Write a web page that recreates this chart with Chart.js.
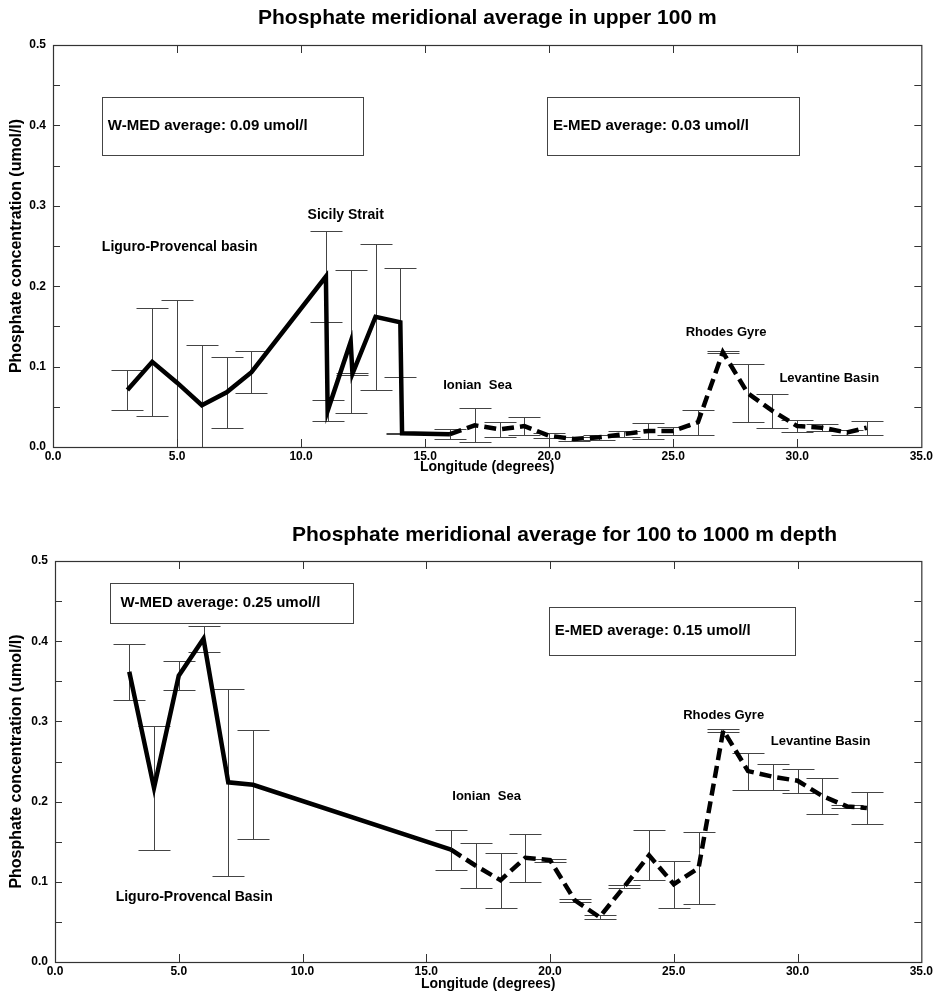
<!DOCTYPE html>
<html>
<head>
<meta charset="utf-8">
<title>Phosphate meridional average</title>
<script src="https://cdn.jsdelivr.net/npm/chart.js@4.4.1/dist/chart.umd.min.js"></script>
<style>
  html, body { margin: 0; padding: 0; background: #fff; }
  #wrap { position: relative; width: 935px; height: 994px; background: #fff; }
  canvas { position: absolute; left: 0; }
  #upperChart { top: 0; }
  #deepChart { top: 495px; }
</style>
</head>
<body>
<div id="wrap">
  <canvas id="upperChart" width="935" height="495"></canvas>
  <canvas id="deepChart" width="935" height="499"></canvas>
</div>
<script>
const FONT = "'Liberation Sans', Arial, Helvetica, sans-serif";

// axis ticks
const lonTicks = [0, 5, 10, 15, 20, 25, 30, 35];
const concTicks = [0, 0.1, 0.2, 0.3, 0.4, 0.5];

// upper 100 m - western basin (solid)
const upperWestLon = [3, 4, 5, 6, 7, 8, 11, 11.07, 12, 12.07, 13, 14, 14.07, 16];
const upperWestVal = [0.071, 0.106, 0.080, 0.052, 0.068, 0.093, 0.212, 0.045, 0.131, 0.091, 0.162, 0.155, 0.017, 0.016];
const upperWestErr = [0.025, 0.067, 0.103, 0.075, 0.044, 0.026, 0.057, 0.013, 0.089, 0.001, 0.091, 0.068, 0.001, null];

// upper 100 m - eastern basin (dashed)
const upperEastLon = [16, 17, 18, 19, 20, 21, 22, 23, 24, 25, 26, 27, 28, 29, 30, 31, 32, 32.8];
const upperEastVal = [0.016, 0.027, 0.022, 0.026, 0.014, 0.010, 0.012, 0.016, 0.020, 0.020, 0.031, 0.118, 0.067, 0.045, 0.026, 0.024, 0.018, 0.024];
const upperEastErr = [0.006, 0.021, 0.009, 0.011, 0.003, 0.002, 0.003, 0.004, 0.0095, 0.005, 0.0155, 0.001, 0.036, 0.021, 0.007, 0.004, 0.003, 0.0085];

// 100 to 1000 m - western basin (solid)
const deepWestLon = [3, 4, 5, 6, 7, 8, 16];
const deepWestVal = [0.362, 0.217, 0.357, 0.403, 0.224, 0.221, 0.140];
const deepWestErr = [0.035, 0.077, 0.018, 0.016, 0.117, 0.068, null];

// 100 to 1000 m - eastern basin (dashed)
const deepEastLon = [16, 17, 18, 19, 20, 21, 22, 23, 24, 25, 26, 27, 28, 29, 30, 31, 32, 32.8];
const deepEastVal = [0.140, 0.120, 0.102, 0.130, 0.127, 0.077, 0.056, 0.094, 0.133, 0.097, 0.117, 0.289, 0.238, 0.231, 0.226, 0.207, 0.194, 0.192];
const deepEastErr = [0.025, 0.028, 0.0345, 0.030, 0.002, 0.002, 0.002, 0.002, 0.031, 0.0295, 0.045, 0.002, 0.023, 0.016, 0.015, 0.022, 0.002, 0.0195];

function toPoints(xs, ys) {
  return xs.map((x, i) => ({ x: x, y: ys[i] }));
}

const CAP = 16;

// frame, inward ticks, error bars, boxes and labels
const paperPlugin = {
  id: "paper",
  beforeDatasetsDraw(chart) {
    const { ctx, chartArea: a, scales: { x, y } } = chart;
    ctx.save();
    ctx.beginPath();
    ctx.rect(a.left, a.top, a.right - a.left, a.bottom - a.top);
    ctx.clip();
    ctx.strokeStyle = "#444";
    ctx.lineWidth = 1;
    chart.data.datasets.forEach(ds => {
      if (!ds.errors) return;
      ds.data.forEach((p, i) => {
        const e = ds.errors[i];
        if (e == null) return;
        const px = Math.round(x.getPixelForValue(p.x)) + 0.5;
        const top = Math.round(y.getPixelForValue(p.y + e)) + 0.5;
        const bot = Math.round(y.getPixelForValue(p.y - e)) + 0.5;
        ctx.beginPath();
        ctx.moveTo(px, top);
        ctx.lineTo(px, bot);
        ctx.moveTo(px - CAP, top);
        ctx.lineTo(px + CAP, top);
        ctx.moveTo(px - CAP, bot);
        ctx.lineTo(px + CAP, bot);
        ctx.stroke();
      });
    });
    ctx.restore();
  },
  afterDraw(chart, args, opts) {
    const { ctx, chartArea: a, scales: { x, y } } = chart;
    ctx.save();

    // frame
    ctx.strokeStyle = "#333";
    ctx.lineWidth = 1.2;
    ctx.strokeRect(a.left + 0.5, a.top + 0.5, a.right - a.left, a.bottom - a.top);

    // inward ticks
    ctx.lineWidth = 1;
    ctx.beginPath();
    for (let v = 0.05; v < 0.5; v += 0.05) {
      const py = Math.round(y.getPixelForValue(v)) + 0.5;
      ctx.moveTo(a.left, py); ctx.lineTo(a.left + 7, py);
      ctx.moveTo(a.right, py); ctx.lineTo(a.right - 7, py);
    }
    lonTicks.slice(1, -1).forEach(v => {
      const px = Math.round(x.getPixelForValue(v)) + 0.5;
      ctx.moveTo(px, a.bottom); ctx.lineTo(px, a.bottom - 8);
      ctx.moveTo(px, a.top); ctx.lineTo(px, a.top + 8);
    });
    ctx.stroke();

    // boxes
    ctx.fillStyle = "#000";
    ctx.textBaseline = "middle";
    ctx.textAlign = "left";
    (opts.boxes || []).forEach(b => {
      const l = x.getPixelForValue(b.x0), r = x.getPixelForValue(b.x1);
      const t = y.getPixelForValue(b.y1), bt = y.getPixelForValue(b.y0);
      ctx.strokeStyle = "#444";
      ctx.lineWidth = 1;
      ctx.strokeRect(Math.round(l) + 0.5, Math.round(t) + 0.5, Math.round(r - l), Math.round(bt - t));
      ctx.font = "bold 15px " + FONT;
      ctx.fillText(b.text, x.getPixelForValue(b.tx), y.getPixelForValue(b.ty));
    });

    // region labels
    (opts.labels || []).forEach(lb => {
      ctx.font = "bold " + lb.size + "px " + FONT;
      ctx.fillText(lb.text, x.getPixelForValue(lb.x), y.getPixelForValue(lb.y));
    });

    // title
    if (opts.title) {
      ctx.font = "bold 21px " + FONT;
      ctx.fillText(opts.title.text, opts.title.left, opts.title.y);
    }
    ctx.restore();
  }
};

function makeChart(id, cfg) {
  return new Chart(document.getElementById(id), {
    type: "line",
    data: {
      datasets: [
        {
          data: toPoints(cfg.westLon, cfg.westVal),
          errors: cfg.westErr,
          borderColor: "#000",
          borderWidth: 4.5,
          pointRadius: 0,
          tension: 0,
          fill: false
        },
        {
          data: toPoints(cfg.eastLon, cfg.eastVal),
          errors: cfg.eastErr,
          borderColor: "#000",
          borderWidth: 4.5,
          borderDash: [12, 6],
          pointRadius: 0,
          tension: 0,
          fill: false
        }
      ]
    },
    options: {
      responsive: false,
      animation: false,
      events: [],
      layout: { padding: { top: cfg.padTop, right: 11, left: 0, bottom: 0 } },
      plugins: {
        legend: { display: false },
        tooltip: { enabled: false },
        paper: { title: cfg.title, boxes: cfg.boxes, labels: cfg.labels }
      },
      scales: {
        x: {
          type: "linear",
          min: 0,
          max: 35,
          afterBuildTicks: axis => { axis.ticks = lonTicks.map(v => ({ value: v })); },
          afterFit: axis => { axis.height = cfg.xHeight; },
          grid: { display: false, drawTicks: false },
          border: { display: false },
          ticks: {
            color: "#000",
            font: { family: FONT, size: 12, weight: "bold" },
            padding: 2,
            maxRotation: 0,
            autoSkip: false,
            callback: v => v.toFixed(1)
          },
          title: {
            display: true,
            text: "Longitude (degrees)",
            color: "#000",
            font: { family: FONT, size: 14, weight: "bold" },
            padding: { top: 0, bottom: cfg.xTitlePad }
          }
        },
        y: {
          min: 0,
          max: 0.5,
          afterBuildTicks: axis => { axis.ticks = concTicks.map(v => ({ value: v })); },
          afterFit: axis => { axis.width = cfg.yWidth; },
          grid: { display: false, drawTicks: false },
          border: { display: false },
          ticks: {
            color: "#000",
            font: { family: FONT, size: 12, weight: "bold" },
            padding: 7,
            callback: v => v.toFixed(1)
          },
          title: {
            display: true,
            text: "Phosphate concentration (umol/l)",
            color: "#000",
            font: { family: FONT, size: 16, weight: "bold" },
            padding: { top: 7, bottom: 0 }
          }
        }
      }
    },
    plugins: [paperPlugin]
  });
}

makeChart("upperChart", {
  westLon: upperWestLon, westVal: upperWestVal, westErr: upperWestErr,
  eastLon: upperEastLon, eastVal: upperEastVal, eastErr: upperEastErr,
  padTop: 45, xHeight: 48, yWidth: 53, xTitlePad: 19,
  title: { text: "Phosphate meridional average in upper 100 m", left: 258, y: 18 },
  boxes: [
    { x0: 1.96, x1: 12.47, y0: 0.363, y1: 0.435, tx: 2.21, ty: 0.399, text: "W-MED average: 0.09 umol/l" },
    { x0: 19.9, x1: 30.05, y0: 0.363, y1: 0.435, tx: 20.15, ty: 0.399, text: "E-MED average: 0.03 umol/l" }
  ],
  labels: [
    { x: 10.26, y: 0.289, size: 14, text: "Sicily Strait" },
    { x: 1.97, y: 0.249, size: 14, text: "Liguro-Provencal basin" },
    { x: 15.73, y: 0.077, size: 13, text: "Ionian  Sea" },
    { x: 25.5, y: 0.143, size: 13, text: "Rhodes Gyre" },
    { x: 29.28, y: 0.085, size: 13, text: "Levantine Basin" }
  ]
});

makeChart("deepChart", {
  westLon: deepWestLon, westVal: deepWestVal, westErr: deepWestErr,
  eastLon: deepEastLon, eastVal: deepEastVal, eastErr: deepEastErr,
  padTop: 66, xHeight: 32, yWidth: 55, xTitlePad: 1,
  title: { text: "Phosphate meridional average for 100 to 1000 m depth", left: 292, y: 40 },
  boxes: [
    { x0: 2.22, x1: 12.03, y0: 0.423, y1: 0.4726, tx: 2.65, ty: 0.4476, text: "W-MED average: 0.25 umol/l" },
    { x0: 19.95, x1: 29.89, y0: 0.3828, y1: 0.4426, tx: 20.19, ty: 0.4127, text: "E-MED average: 0.15 umol/l" }
  ],
  labels: [
    { x: 25.38, y: 0.308, size: 13, text: "Rhodes Gyre" },
    { x: 28.92, y: 0.2756, size: 13, text: "Levantine Basin" },
    { x: 16.05, y: 0.207, size: 13, text: "Ionian  Sea" },
    { x: 2.45, y: 0.081, size: 14, text: "Liguro-Provencal Basin" }
  ]
});
</script>
</body>
</html>
